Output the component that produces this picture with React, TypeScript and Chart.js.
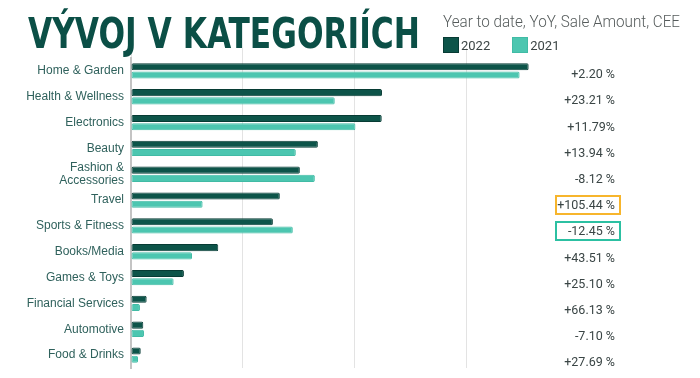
import React, { useEffect, useRef } from "react";
import { Chart, registerables } from "chart.js";

Chart.register(...registerables);

const categories: (string | string[])[] = [
  "Home & Garden",
  "Health & Wellness",
  "Electronics",
  "Beauty",
  ["Fashion &", "Accessories"],
  "Travel",
  "Sports & Fitness",
  "Books/Media",
  "Games & Toys",
  "Financial Services",
  "Automotive",
  "Food & Drinks",
];

const values2022 = [3.554, 2.243, 2.241, 1.67, 1.509, 1.33, 1.268, 0.78, 0.473, 0.14, 0.11, 0.087];
const values2021 = [3.473, 1.821, 2.006, 1.473, 1.643, 0.64, 1.446, 0.545, 0.381, 0.08, 0.116, 0.0625];

const yoyLabels = [
  "+2.20 %",
  "+23.21 %",
  "+11.79%",
  "+13.94 %",
  "-8.12 %",
  "+105.44 %",
  "-12.45 %",
  "+43.51 %",
  "+25.10 %",
  "+66.13 %",
  "-7.10 %",
  "+27.69 %",
];

const highlightColors: (string | null)[] = [null, null, null, null, null, "#f7b52c", "#2cc0a2", null, null, null, null, null];

const seriesLabels = ["2022", "2021"];

const DARK = "#0d5449";
const DARK_BORDER = "#073b34";
const LIGHT = "#4cc6b0";
const LIGHT_BORDER = "#41bba5";

export default function App() {
  const canvasRef = useRef<HTMLCanvasElement | null>(null);
  const titleRef = useRef<HTMLSpanElement | null>(null);
  const subRef = useRef<HTMLSpanElement | null>(null);

  useEffect(() => {
    const fit = (el: HTMLSpanElement | null, target: number) => {
      if (!el) return;
      el.style.transform = "none";
      const w = el.getBoundingClientRect().width;
      if (w > 0) el.style.transform = `scaleX(${target / w})`;
    };
    fit(titleRef.current, 392);
    fit(subRef.current, 237);

    if (!canvasRef.current) return;
    const chart = new Chart(canvasRef.current, {
      type: "bar",
      data: {
        labels: categories,
        datasets: [
          {
            label: seriesLabels[0],
            data: values2022,
            backgroundColor: DARK,
            borderColor: DARK_BORDER,
            borderWidth: 1,
            borderRadius: 1.5,
            borderSkipped: false,
            categoryPercentage: 0.645,
            barPercentage: 0.85,
          },
          {
            label: seriesLabels[1],
            data: values2021,
            backgroundColor: LIGHT,
            borderColor: LIGHT_BORDER,
            borderWidth: 1,
            borderRadius: 1.5,
            borderSkipped: false,
            categoryPercentage: 0.645,
            barPercentage: 0.85,
          },
        ],
      },
      options: {
        indexAxis: "y",
        responsive: false,
        animation: false,
        devicePixelRatio: 1,
        layout: { padding: { top: 48, bottom: 10, right: 155, left: 0 } },
        plugins: {
          legend: { display: false },
          tooltip: { enabled: false },
        },
        scales: {
          x: {
            position: "top",
            min: 0,
            max: 3.7,
            ticks: { display: false, stepSize: 1, includeBounds: false },
            grid: { color: "#e3e3e3", lineWidth: 1, drawTicks: true, tickLength: 10 },
            border: { display: false },
          },
          y: {
            afterFit: (scale: any) => {
              scale.width = 131;
              scale.paddingTop = 0;
              scale.paddingBottom = 0;
            },
            ticks: {
              autoSkip: false,
              color: "#2f615c",
              padding: 7,
              font: { family: "'Liberation Sans', Arial, sans-serif", size: 12, lineHeight: 1.06 },
            },
            grid: { display: false, drawTicks: false },
            border: { display: true, color: "#c4c4c4", width: 2 },
          },
        },
      },
    });
    return () => chart.destroy();
  }, []);

  return (
    <div
      style={{
        position: "fixed",
        left: 0,
        top: 0,
        width: 700,
        height: 378,
        background: "#ffffff",
        overflow: "hidden",
      }}
    >
      <canvas ref={canvasRef} width={700} height={378} style={{ position: "absolute", left: 0, top: 0 }} />
      <div
        style={{
          position: "absolute",
          left: 28,
          top: 11,
          height: 44,
          lineHeight: "44px",
          fontSize: 43,
          fontWeight: 700,
          fontFamily: "'Liberation Sans Narrow', 'DejaVu Sans Condensed', 'Liberation Sans', sans-serif",
          color: "#0b4f46",
          whiteSpace: "nowrap",
        }}
      >
        <span ref={titleRef} style={{ display: "inline-block", transformOrigin: "left center" }}>
          VÝVOJ V KATEGORIÍCH
        </span>
      </div>
      <div
        style={{
          position: "absolute",
          left: 443,
          top: 14,
          height: 16,
          lineHeight: "16px",
          fontSize: 16,
          fontWeight: 300,
          fontFamily: "Roboto, sans-serif",
          color: "#555b5b",
          whiteSpace: "nowrap",
        }}
      >
        <span ref={subRef} style={{ display: "inline-block", transformOrigin: "left center" }}>
          Year to date, YoY, Sale Amount, CEE
        </span>
      </div>
      <div
        style={{
          position: "absolute",
          left: 443,
          top: 37,
          display: "flex",
          alignItems: "center",
          fontFamily: "Roboto, sans-serif",
          fontSize: 13,
          color: "#3c4545",
          whiteSpace: "nowrap",
        }}
      >
        <span
          style={{
            display: "inline-block",
            width: 14,
            height: 14,
            background: DARK,
            border: `1px solid ${DARK_BORDER}`,
            marginRight: 2,
          }}
        />
        <span style={{ marginRight: 22 }}>{seriesLabels[0]}</span>
        <span
          style={{
            display: "inline-block",
            width: 14,
            height: 14,
            background: LIGHT,
            border: `1px solid ${LIGHT_BORDER}`,
            marginRight: 2,
          }}
        />
        <span>{seriesLabels[1]}</span>
      </div>
      <div
        style={{
          position: "absolute",
          left: 541,
          top: 60.9,
          width: 80,
          fontFamily: "Roboto, sans-serif",
          fontSize: 12.5,
          color: "#3a4545",
        }}
      >
        {yoyLabels.map((t, i) => (
          <div
            key={i}
            style={{
              height: 26.2,
              display: "flex",
              alignItems: "center",
              justifyContent: "flex-end",
            }}
          >
            <span
              style={{
                boxSizing: "border-box",
                width: 66,
                height: 19.5,
                lineHeight: "15.5px",
                textAlign: "right",
                paddingRight: 4,
                border: `2px solid ${highlightColors[i] ?? "transparent"}`,
                whiteSpace: "nowrap",
              }}
            >
              {t}
            </span>
          </div>
        ))}
      </div>
    </div>
  );
}
